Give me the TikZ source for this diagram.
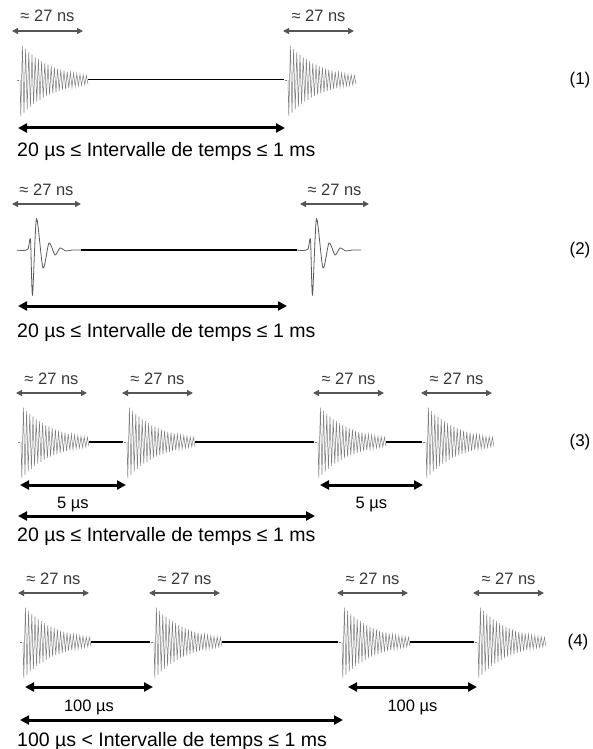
\documentclass[tikz,border=0pt]{standalone}
\usepackage{fontspec}
\setmainfont{Liberation Sans}
\usetikzlibrary{arrows.meta}
\definecolor{wavegray}{RGB}{125,125,125}
\definecolor{dimgray}{RGB}{85,85,85}
\definecolor{labgray}{RGB}{55,55,55}
\tikzset{
  sig/.style={draw=wavegray, line width=0.5pt},
  link/.style={draw=black, line width=1.6pt},
  dim/.style={{Triangle[length=6pt,width=6pt]}-{Triangle[length=6pt,width=6pt]}, draw=dimgray, fill=dimgray, line width=1.3pt},
  span/.style={{Triangle[length=9pt,width=9pt]}-{Triangle[length=9pt,width=9pt]}, line width=3pt},
  lab/.style={text=labgray, font=\fontsize{16.5}{19}\selectfont, inner sep=0pt},
  gap/.style={font=\fontsize{16.5}{19}\selectfont, inner sep=0pt},
  note/.style={font=\fontsize{19.5}{23}\selectfont, inner sep=0pt},
  tag/.style={font=\fontsize{17}{20}\selectfont, inner sep=0pt},
  pics/ring/.style={code={
    \draw[sig] (-3,0) -- (-1,0);
    \draw[sig] plot[domain=0:68, samples=86] ({\x},{37*exp(-\x/32)*sin(\x*112.5)});
    \coordinate (-in) at (-4,0);
    \coordinate (-out) at (68,0);
    \draw[dim] (#1-5,-49) -- (#1+66,-49);
    \node[lab, anchor=base] (-lab) at (#1+30.5,-58) {≈ 27 ns};
  }},
  pics/ring/.default=0,
  pics/blip/.style={code={
    \draw[sig, draw=black!65, line width=0.8pt] plot[smooth, tension=0.45] coordinates {(0,0) (6,0.5) (11,-1) (13.5,-10) (15.5,45) (19.5,-31) (26,18) (32,-7) (38,5) (43,-2) (49,1) (55,0) (64,0)};
    \coordinate (-in) at (0,0);
    \coordinate (-out) at (64,0);
    \draw[dim] (#1-5,-46) -- (#1+64,-46);
    \node[lab, anchor=base] (-lab) at (#1+29.5,-55) {≈ 27 ns};
  }},
  pics/blip/.default=0
}

\begin{document}
\begin{tikzpicture}[x=1pt, y=-1pt]
\useasboundingbox (0,0) rectangle (592,749);

% (1)
\pic (r1a) at (20,80) {ring=-3};
\pic (r1b) at (288,80) {ring};
\draw[link, line width=1pt] (r1a-out) -- (r1b-in);
\coordinate (s1a) at (18,128); \coordinate (s1b) at (285,128);
\draw[span] (s1a) -- (s1b);
\node[note, anchor=base west] (t1) at (17,157) {20 µs ≤ Intervalle de temps ≤ 1 ms};
\node[tag] (n1) at (580,80) {(1)};

% (2)
\pic (r2a) at (17,250) {blip};
\pic (r2b) at (297,250) {blip=8};
\draw[link] (r2a-out) -- (r2b-in);
\coordinate (s2a) at (18,306); \coordinate (s2b) at (287,306);
\draw[span] (s2a) -- (s2b);
\node[note, anchor=base west] (t2) at (17,337) {20 µs ≤ Intervalle de temps ≤ 1 ms};
\node[tag] (n2) at (580,250) {(2)};

% (3)
\pic (r3a) at (21,442) {ring};
\pic (r3b) at (127,442) {ring};
\pic (r3c) at (318,442) {ring};
\pic (r3d) at (426,442) {ring};
\draw[link] (r3a-out) -- (r3b-in);
\draw[link] (r3b-out) -- (r3c-in);
\draw[link] (r3c-out) -- (r3d-in);
\coordinate (g3a) at (20,485); \coordinate (g3b) at (126,485);
\coordinate (g3c) at (320,485); \coordinate (g3d) at (423,485);
\draw[span] (g3a) -- node[gap, below=11pt] (d3a) {5 µs} (g3b);
\draw[span] (g3c) -- node[gap, below=11pt] (d3b) {5 µs} (g3d);
\coordinate (s3a) at (18,516); \coordinate (s3b) at (315,516);
\draw[span] (s3a) -- (s3b);
\node[note, anchor=base west] (t3) at (17,541) {20 µs ≤ Intervalle de temps ≤ 1 ms};
\node[tag] (n3) at (580,442) {(3)};

% (4)
\pic (r4a) at (23,642) {ring};
\pic (r4b) at (154,642) {ring};
\pic (r4c) at (342,642) {ring};
\pic (r4d) at (478,642) {ring};
\draw[link] (r4a-out) -- (r4b-in);
\draw[link] (r4b-out) -- (r4c-in);
\draw[link] (r4c-out) -- (r4d-in);
\coordinate (g4a) at (25,687); \coordinate (g4b) at (153,687);
\coordinate (g4c) at (348,687); \coordinate (g4d) at (477,687);
\draw[span] (g4a) -- node[gap, below=11pt] (d4a) {100 µs} (g4b);
\draw[span] (g4c) -- node[gap, below=11pt] (d4b) {100 µs} (g4d);
\coordinate (s4a) at (20,720); \coordinate (s4b) at (343,720);
\draw[span] (s4a) -- (s4b);
\node[note, anchor=base west] (t4) at (17,746) {100 µs < Intervalle de temps ≤ 1 ms};
\node[tag] (n4) at (578,642) {(4)};
\end{tikzpicture}
\end{document}
